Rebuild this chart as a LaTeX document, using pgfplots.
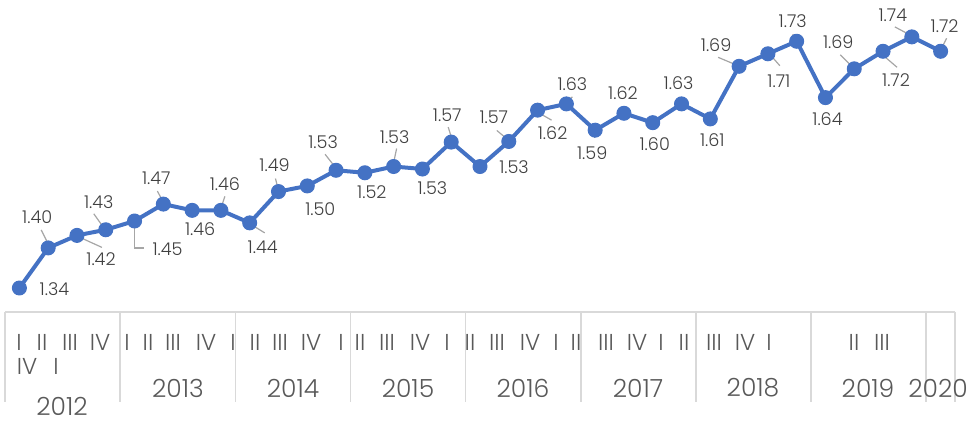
\documentclass[border=0pt]{standalone}
\usepackage{pgfplots}
\pgfplotsset{compat=1.18}
\usepackage{fontspec}
\setmainfont{Poppins}[UprightFont={* Light}]
\definecolor{myblue}{HTML}{4472C4}
\definecolor{labtxt}{HTML}{404040}
\definecolor{cattxt}{HTML}{595959}
\definecolor{leadc}{HTML}{A6A6A6}
\definecolor{catline}{HTML}{D9D9D9}
% label: index, value, dx(px), dy(px, down), text
\newcommand{\lab}[5]{\node[labtxt,font=\fontsize{8.8}{10}\selectfont,inner sep=0pt] at ([shift={(#3*0.5pt,-#4*0.5pt)}]axis cs:#1,#2) {#5};}
% leader: index, value, x1,y1,x2,y2 (px, y down)
\newcommand{\lead}[6]{\draw[leadc,line width=0.6pt] ([shift={(#3*0.5pt,-#4*0.5pt)}]axis cs:#1,#2) -- ([shift={(#5*0.5pt,-#6*0.5pt)}]axis cs:#1,#2);}
\begin{document}
\begin{tikzpicture}
\useasboundingbox (-2.5pt,-54.5pt) rectangle (481.5pt,156pt);
\begin{axis}[at={(0,0)}, anchor=south west,
  width=475pt, height=156pt, scale only axis,
  xmin=-0.5, xmax=32.5, ymin=1.3017, ymax=1.7999,
  axis lines=none, clip=false]
\addplot[color=myblue, line width=2pt, line join=round, mark=*, mark size=3.5pt,
  mark options={fill=myblue, draw=myblue, line width=0.5pt}] coordinates {
(0,1.340) (1,1.404) (2,1.424) (3,1.433) (4,1.447) (5,1.474) (6,1.464) (7,1.464)
(8,1.444) (9,1.494) (10,1.503) (11,1.528) (12,1.524) (13,1.534) (14,1.530) (15,1.573)
(16,1.534) (17,1.574) (18,1.624) (19,1.634) (20,1.592) (21,1.619) (22,1.604) (23,1.634)
(24,1.610) (25,1.694) (26,1.714) (27,1.734) (28,1.644) (29,1.690) (30,1.718) (31,1.741)
(32,1.718)};
% leaders
\lead{1}{1.404}{-7}{-18}{0}{-4}
\lead{2}{1.424}{3}{2}{25}{12}
\lead{3}{1.433}{-12}{-16}{-2}{-2}
\draw[leadc,line width=0.6pt] (axis cs:4,1.447) -- ([shift={(0pt,-13.5pt)}]axis cs:4,1.447) -- ([shift={(4.5pt,-13.5pt)}]axis cs:4,1.447);
\lead{5}{1.474}{-6}{-13}{0}{-2}
\lead{7}{1.464}{4}{-14}{0}{-2}
\lead{8}{1.444}{2}{2}{15}{10}
\lead{9}{1.494}{-3}{-13}{0}{-1}
\lead{11}{1.528}{-11}{-16}{0}{-2}
\lead{13}{1.534}{3}{-18}{0}{-4}
\lead{15}{1.573}{-3}{-15}{1}{-2}
\lead{17}{1.574}{-12}{-11}{0}{-1}
\lead{18}{1.624}{0}{2}{14}{10}
\lead{19}{1.634}{6}{-7}{0}{-2}
\lead{20}{1.592}{-1}{2}{-1}{8}
\lead{21}{1.619}{0}{-7}{0}{-1}
\lead{23}{1.634}{-2}{-7}{-1}{-1}
\lead{25}{1.694}{-21}{-9}{-2}{-1}
\lead{26}{1.714}{5}{4}{12}{12}
\lead{27}{1.734}{-4}{-7}{0}{0}
\lead{29}{1.690}{-14}{-14}{-1}{-1}
\lead{30}{1.718}{0}{4}{14}{16}
\lead{31}{1.741}{-17}{-10}{-2}{-2}
\lead{32}{1.718}{6}{-13}{1}{-3}
% labels
\lab{0}{1.340}{35}{1}{1.34}
\lab{1}{1.404}{-11}{-31}{1.40}
\lab{2}{1.424}{24}{24}{1.42}
\lab{3}{1.433}{-7}{-28}{1.43}
\lab{4}{1.447}{33}{28}{1.45}
\lab{5}{1.474}{-7}{-26}{1.47}
\lab{6}{1.464}{8}{19}{1.46}
\lab{7}{1.464}{4}{-26}{1.46}
\lab{8}{1.444}{13}{24}{1.44}
\lab{9}{1.494}{-4}{-26}{1.49}
\lab{10}{1.503}{13}{23}{1.50}
\lab{11}{1.528}{-13}{-28}{1.53}
\lab{12}{1.524}{7}{19}{1.52}
\lab{13}{1.534}{1}{-29}{1.53}
\lab{14}{1.530}{10}{19}{1.53}
\lab{15}{1.573}{-4}{-27}{1.57}
\lab{16}{1.534}{34}{1}{1.53}
\lab{17}{1.574}{-15}{-24}{1.57}
\lab{18}{1.624}{15}{23}{1.62}
\lab{19}{1.634}{6}{-20}{1.63}
\lab{20}{1.592}{-3}{23}{1.59}
\lab{21}{1.619}{-1}{-20}{1.62}
\lab{22}{1.604}{2}{21}{1.60}
\lab{23}{1.634}{-3}{-21}{1.63}
\lab{24}{1.610}{2}{21}{1.61}
\lab{25}{1.694}{-23}{-21}{1.69}
\lab{26}{1.714}{11}{27}{1.71}
\lab{27}{1.734}{-4}{-20}{1.73}
\lab{28}{1.644}{2}{21}{1.64}
\lab{29}{1.690}{-16}{-27}{1.69}
\lab{30}{1.718}{13}{29}{1.72}
\lab{31}{1.741}{-19}{-22}{1.74}
\lab{32}{1.718}{4}{-25}{1.72}
\end{axis}
% category axis
\draw[catline, line width=0.75pt] (0,0) -- (475pt,0);
\foreach \x in {0,57.58,115.15,172.73,230.3,287.88,345.45,403.03,460.6,475}
  \draw[catline, line width=0.75pt] (\x pt,0) -- (\x pt,-45pt);
\begin{scope}[every node/.style={cattxt, font=\fontsize{11.5}{13}\selectfont, inner sep=0pt}]
\foreach \x/\t in {7/I,18.5/II,32.5/III,47.5/IV,61/I,71.5/II,84/III,100.5/IV,114/I,125/II,137.5/III,153/IV,
  168/I,177.5/II,191/III,207.5/IV,221/I,232.5/II,246/III,262.5/IV,275.5/I,285.5/II,300.5/III,316/IV,
  328/I,339.5/II,354.5/III,370/IV,382/I,424.5/II,438.5/III}
  \node at (\x pt,-15pt) {\t};
\node at (11pt,-27pt) {IV};
\node at (25.5pt,-27pt) {I};
\end{scope}
\begin{scope}[every node/.style={cattxt, font=\fontsize{12.5}{14}\selectfont, inner sep=0pt}]
\node at (28.5pt,-47pt) {2012};
\foreach \x/\t in {86.5/2013,144/2014,201.5/2015,259/2016,316.5/2017,374/2018,431.5/2019,466.5/2020}
  \node at (\x pt,-38pt) {\t};
\end{scope}
\end{tikzpicture}
\end{document}
